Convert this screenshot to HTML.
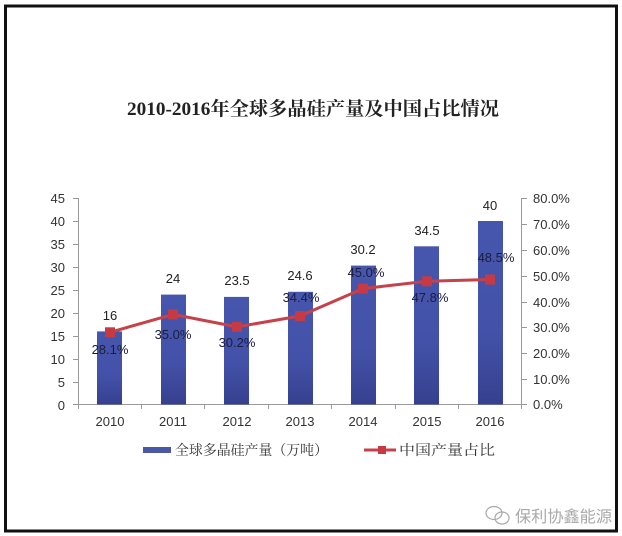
<!DOCTYPE html>
<html><head><meta charset="utf-8"><style>
html,body{margin:0;padding:0;background:#fff;}
svg{display:block;}
</style></head><body>
<svg width="622" height="536" viewBox="0 0 622 536" xmlns="http://www.w3.org/2000/svg">
<defs>
<linearGradient id="bg" x1="0" y1="0" x2="0" y2="1">
<stop offset="0" stop-color="#4756ad"/>
<stop offset="0.6" stop-color="#4352a8"/>
<stop offset="1" stop-color="#36408f"/>
</linearGradient>
</defs>
<rect x="0" y="0" width="622" height="536" fill="#fff"/>
<rect x="5.5" y="6" width="611" height="525" fill="#fff" stroke="#111" stroke-width="3"/>
<text x="313" y="115" text-anchor="middle" font-family="'Liberation Serif','Noto Serif CJK SC',serif" font-weight="bold" font-size="19" fill="#222" textLength="372" lengthAdjust="spacingAndGlyphs">2010-2016年全球多晶硅产量及中国占比情况</text>

<g stroke="#999" stroke-width="1" fill="none">
<line x1="78.5" y1="198" x2="78.5" y2="405"/>
<line x1="78" y1="404.5" x2="522" y2="404.5"/>
<line x1="521.5" y1="198" x2="521.5" y2="405"/>
<path d="M73 198.5H78M73 221.5H78M73 244.5H78M73 267.5H78M73 290.5H78M73 313.5H78M73 336.5H78M73 359.5H78M73 382.5H78M73 404.5H78"/>
<path d="M522 198.5H527M522 224.5H527M522 250.5H527M522 276.5H527M522 302.5H527M522 327.5H527M522 353.5H527M522 379.5H527M522 404.5H527"/>
<path d="M141.5 405V409M204.5 405V409M268.5 405V409M331.5 405V409M395.5 405V409M458.5 405V409M521.5 405V409M78.5 405V409"/>
</g>

<g font-family="'Liberation Sans',sans-serif" font-size="13" fill="#333" text-anchor="end">
<text x="65" y="203">45</text><text x="65" y="226">40</text><text x="65" y="249">35</text><text x="65" y="272">30</text><text x="65" y="295">25</text><text x="65" y="318">20</text><text x="65" y="341">15</text><text x="65" y="364">10</text><text x="65" y="387">5</text><text x="65" y="410">0</text>
</g>
<g font-family="'Liberation Sans',sans-serif" font-size="13" fill="#333">
<text x="533" y="203">80.0%</text><text x="533" y="229">70.0%</text><text x="533" y="255">60.0%</text><text x="533" y="281">50.0%</text><text x="533" y="307">40.0%</text><text x="533" y="332">30.0%</text><text x="533" y="358">20.0%</text><text x="533" y="384">10.0%</text><text x="533" y="409">0.0%</text>
</g>

<g fill="url(#bg)">
<rect x="97" y="331.4" width="25" height="73.1"/>
<rect x="161" y="294.6" width="25" height="109.9"/>
<rect x="224" y="296.9" width="25" height="107.6"/>
<rect x="288" y="291.8" width="25" height="112.7"/>
<rect x="351" y="265.6" width="25" height="138.9"/>
<rect x="414" y="246.3" width="25" height="158.2"/>
<rect x="478" y="221" width="25" height="183.5"/>
</g>

<g font-family="'Liberation Sans',sans-serif" font-size="13" fill="#222" text-anchor="middle">
<text x="110" y="320">16</text>
<text x="173" y="283">24</text>
<text x="237" y="285">23.5</text>
<text x="300" y="280">24.6</text>
<text x="363" y="254">30.2</text>
<text x="427" y="235">34.5</text>
<text x="490" y="210">40</text>
</g>

<polyline points="110,332.3 173,314.4 237,326.9 300,316 363,288.6 427,281.3 490,279.5" fill="none" stroke="#c7414a" stroke-width="3" stroke-linejoin="round"/>
<g fill="#c63a44">
<rect x="105" y="327.3" width="10" height="10"/>
<rect x="168" y="309.4" width="10" height="10"/>
<rect x="232" y="321.9" width="10" height="10"/>
<rect x="295" y="311" width="10" height="10"/>
<rect x="358" y="283.6" width="10" height="10"/>
<rect x="422" y="276.3" width="10" height="10"/>
<rect x="485" y="274.5" width="10" height="10"/>
</g>

<g font-family="'Liberation Sans',sans-serif" font-size="13" fill="#1c1c3c" text-anchor="middle">
<text x="110" y="354">28.1%</text>
<text x="173" y="339">35.0%</text>
<text x="237" y="347">30.2%</text>
<text x="301" y="302">34.4%</text>
<text x="366" y="277">45.0%</text>
<text x="430" y="302">47.8%</text>
<text x="496" y="262">48.5%</text>
</g>

<g font-family="'Liberation Sans',sans-serif" font-size="13" fill="#333" text-anchor="middle">
<text x="110" y="426">2010</text>
<text x="173" y="426">2011</text>
<text x="237" y="426">2012</text>
<text x="300" y="426">2013</text>
<text x="363" y="426">2014</text>
<text x="427" y="426">2015</text>
<text x="490" y="426">2016</text>
</g>

<rect x="143" y="447" width="28" height="6" fill="#4a58a8"/>
<text x="175" y="455" font-family="'Liberation Serif','Noto Serif CJK SC',serif" font-size="14" fill="#333" textLength="153" lengthAdjust="spacingAndGlyphs">全球多晶硅产量（万吨）</text>
<line x1="364" y1="450" x2="396" y2="450" stroke="#c7414a" stroke-width="3"/>
<rect x="378" y="446" width="8" height="8" fill="#c63a44"/>
<text x="399" y="455" font-family="'Liberation Serif','Noto Serif CJK SC',serif" font-size="14" fill="#333" textLength="96" lengthAdjust="spacingAndGlyphs">中国产量占比</text>

<g fill="none" stroke="#aaa" stroke-width="1.2">
<ellipse cx="494" cy="513" rx="8" ry="6.5"/>
<ellipse cx="502" cy="518" rx="7" ry="6"/>
</g>
<text x="515" y="522" font-family="'Liberation Sans','Noto Sans CJK SC',sans-serif" font-size="16" fill="#a8a8a8" textLength="97" lengthAdjust="spacingAndGlyphs">保利协鑫能源</text>
</svg>
</body></html>
